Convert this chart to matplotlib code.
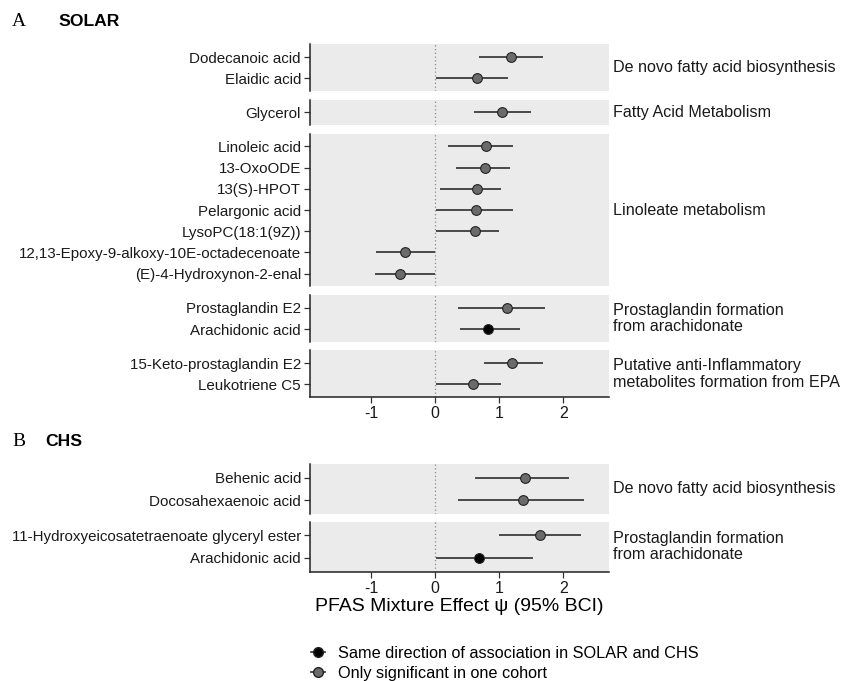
import matplotlib
matplotlib.use("Agg")
import matplotlib.pyplot as plt
from matplotlib.lines import Line2D

plt.rcParams['font.family'] = ['Liberation Sans', 'DejaVu Sans']

# ---- data ----
# SOLAR cohort
solar_pathways = ["De novo fatty acid biosynthesis",
                  "Fatty Acid Metabolism",
                  "Linoleate metabolism",
                  "Prostaglandin formation\nfrom arachidonate",
                  "Putative anti-Inflammatory\nmetabolites formation from EPA"]
solar_names = ["Dodecanoic acid", "Elaidic acid",
               "Glycerol",
               "Linoleic acid", "13-OxoODE", "13(S)-HPOT", "Pelargonic acid",
               "LysoPC(18:1(9Z))", "12,13-Epoxy-9-alkoxy-10E-octadecenoate",
               "(E)-4-Hydroxynon-2-enal",
               "Prostaglandin E2", "Arachidonic acid",
               "15-Keto-prostaglandin E2", "Leukotriene C5"]
solar_group = [0, 0, 1, 2, 2, 2, 2, 2, 2, 2, 3, 3, 4, 4]
solar_est = [1.19, 0.65, 1.04, 0.79, 0.78, 0.65, 0.64, 0.62, -0.47, -0.54, 1.12, 0.82, 1.20, 0.59]
solar_lo = [0.69, 0.02, 0.61, 0.20, 0.33, 0.07, 0.02, 0.02, -0.92, -0.94, 0.36, 0.38, 0.76, 0.02]
solar_hi = [1.68, 1.13, 1.50, 1.22, 1.17, 1.02, 1.21, 1.00, 0.0, 0.0, 1.72, 1.33, 1.68, 1.03]
solar_both = [0, 0, 0, 0, 0, 0, 0, 0, 0, 0, 0, 1, 0, 0]

# CHS cohort
chs_pathways = ["De novo fatty acid biosynthesis",
                "Prostaglandin formation\nfrom arachidonate"]
chs_names = ["Behenic acid", "Docosahexaenoic acid",
             "11-Hydroxyeicosatetraenoate glyceryl ester", "Arachidonic acid"]
chs_group = [0, 0, 1, 1]
chs_est = [1.40, 1.37, 1.63, 0.68]
chs_lo = [0.62, 0.35, 0.99, 0.02]
chs_hi = [2.09, 2.32, 2.27, 1.53]
chs_both = [0, 0, 0, 1]

xticks = [-1, 0, 1, 2]
legend_labels = ["Same direction of association in SOLAR and CHS",
                 "Only significant in one cohort"]

# ---- styling ----
W, H = 842, 681
PANEL_BG = "#EBEBEB"
GREY_PT = "#6b6b6b"
LINE_C = "#2e2e2e"
XLIM = (-1.95, 2.71)
LEFT_PX, RIGHT_PX = 310, 609

fig = plt.figure(figsize=(W / 100, H / 100), dpi=100)


def draw_cohort(top_px, unit, gap, pathways, names, group, est, lo, hi, both):
    axes = []
    y = top_px
    for g, pw in enumerate(pathways):
        idx = [i for i in range(len(names)) if group[i] == g]
        n = len(idx)
        h = (n - 1 + 1.2) * unit
        ax = fig.add_axes([LEFT_PX / W, 1 - (y + h) / H,
                           (RIGHT_PX - LEFT_PX) / W, h / H])
        ax.set_facecolor(PANEL_BG)
        ax.axvline(0, color="#8a8a8a", lw=0.9, ls=(0, (1, 2)), zorder=1)
        for r, i in enumerate(idx, start=1):
            fc = "black" if both[i] else GREY_PT
            ax.plot([lo[i], hi[i]], [r, r], color=LINE_C, lw=1.2, zorder=2,
                    solid_capstyle="butt")
            ax.plot(est[i], r, "o", ms=7, mfc=fc, mec="#222222", mew=0.8, zorder=3)
        ax.set_xlim(*XLIM)
        ax.set_ylim(n + 0.6, 0.4)
        ax.set_yticks(range(1, n + 1))
        ax.set_yticklabels([names[i] for i in idx], fontsize=10.9, color="#1a1a1a")
        for s in ["top", "right", "bottom"]:
            ax.spines[s].set_visible(False)
        ax.spines["left"].set_color("#222222")
        ax.spines["left"].set_linewidth(1.1)
        ax.tick_params(axis="y", length=4.5, width=0.9, color="#333333", pad=2)
        ax.set_xticks([])
        ax.text(1.015, 0.5, pw, transform=ax.transAxes, ha="left", va="center",
                fontsize=11.6, linespacing=1.12, color="#1a1a1a")
        axes.append(ax)
        y += h + gap
    last = axes[-1]
    last.spines["bottom"].set_visible(True)
    last.spines["bottom"].set_color("#222222")
    last.spines["bottom"].set_linewidth(1.1)
    last.set_xticks(xticks)
    last.set_xticklabels([str(t) for t in xticks], fontsize=11.5, color="#1a1a1a")
    last.tick_params(axis="x", length=4.5, width=0.9, color="#333333", pad=2)
    return axes


draw_cohort(44.3, 21.2, 8.7, solar_pathways, solar_names, solar_group,
            solar_est, solar_lo, solar_hi, solar_both)
chs_axes = draw_cohort(464, 22.7, 7.7, chs_pathways, chs_names, chs_group,
                       chs_est, chs_lo, chs_hi, chs_both)
chs_axes[-1].set_xlabel("PFAS Mixture Effect ψ (95% BCI)", fontsize=14,
                        labelpad=2)

# panel tags
fig.text(12 / W, 1 - 21.7 / H, "A", family="Liberation Serif", fontsize=14,
         va="center", ha="left")
fig.text(58 / W, 1 - 21.7 / H, "SOLAR", fontsize=12.6, fontweight="bold",
         va="center", ha="left")
fig.text(12 / W, 1 - 441.7 / H, "B", family="Liberation Serif", fontsize=14,
         va="center", ha="left")
fig.text(45.5 / W, 1 - 441.7 / H, "CHS", fontsize=12.6, fontweight="bold",
         va="center", ha="left")

# legend
handles = [Line2D([0], [0], color=LINE_C, lw=1.2, marker="o", ms=7,
                  mfc="black", mec="#222222"),
           Line2D([0], [0], color=LINE_C, lw=1.2, marker="o", ms=7,
                  mfc=GREY_PT, mec="#222222")]
fig.legend(handles, legend_labels, loc="center left",
           bbox_to_anchor=(311 / W, 1 - 663.5 / H), frameon=False, fontsize=11.7,
           handlelength=0.85, handletextpad=0.8, labelspacing=0.3,
           borderaxespad=0, borderpad=0)

fig.savefig("out.png", dpi=100)
